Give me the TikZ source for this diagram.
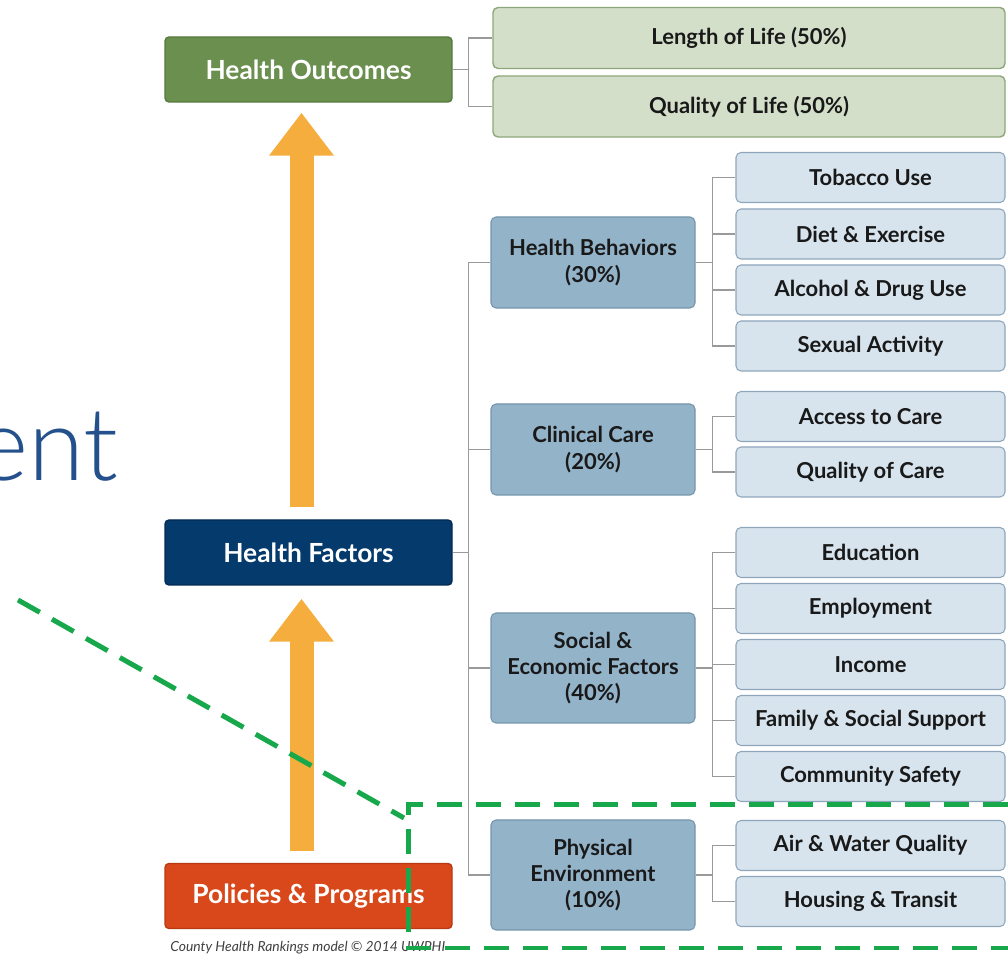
\documentclass[tikz,border=0pt]{standalone}
\usepackage{fontspec}
\setmainfont{Lato}
\newfontfamily\thinfont{Lato Light}
\usetikzlibrary{positioning,arrows.meta,calc}

\newlength\pxu
\setlength\pxu{0.02cm}

\definecolor{outcgreen}{HTML}{6A8F4E}
\definecolor{outcline}{HTML}{557A3C}
\definecolor{factnavy}{HTML}{053A6D}
\definecolor{factline}{HTML}{032A52}
\definecolor{polred}{HTML}{D9481B}
\definecolor{polline}{HTML}{B83A12}
\definecolor{arrorange}{HTML}{F5AE3E}
\definecolor{lifefill}{HTML}{D4DFCA}
\definecolor{lifeline}{HTML}{8EA77A}
\definecolor{midfill}{HTML}{93B3C9}
\definecolor{midline}{HTML}{7595AB}
\definecolor{leaffill}{HTML}{D7E4EE}
\definecolor{leafline}{HTML}{8FA6BA}
\definecolor{conngray}{HTML}{9A9A9A}
\definecolor{dashgreen}{HTML}{17A84B}
\definecolor{titleblue}{HTML}{24508C}

\begin{document}
\begin{tikzpicture}[x=0.02cm, y=-0.02cm,
    outer/.style={rounded corners=4\pxu, minimum width=287\pxu, minimum height=65\pxu,
      inner sep=0pt, text=white, line width=0.8pt, font=\fontsize{15}{18}\selectfont\bfseries},
    lifebox/.style={rounded corners=5\pxu, fill=lifefill, draw=lifeline, line width=0.8pt,
      minimum width=512\pxu, minimum height=61\pxu, inner sep=0pt, text=black!90,
      font=\fontsize{12.5}{15}\selectfont\bfseries},
    midbox/.style={rounded corners=5\pxu, fill=midfill, draw=midline, line width=0.6pt,
      minimum width=204\pxu, inner sep=0pt, align=center, text=black!90,
      font=\fontsize{12.5}{15}\selectfont\bfseries},
    leaf/.style={rounded corners=5\pxu, fill=leaffill, draw=leafline, line width=0.6pt,
      minimum width=269\pxu, minimum height=50\pxu, inner sep=0pt, text=black!90,
      font=\fontsize{12.5}{15}\selectfont\bfseries},
    conn/.style={draw=conngray, line width=0.028cm},
    bigarrow/.style={draw=arrorange, line width=0.48cm, line cap=butt,
      -{Triangle[length=0.86cm, width=1.24cm]}},
    greendash/.style={draw=dashgreen, line width=0.1cm, dash pattern=on 0.5cm off 0.28cm}]
%
    \useasboundingbox (0,0) rectangle (1008,955);
    \clip (0,0) rectangle (1008,955);
%
    \node[anchor=base east, text=titleblue, font=\thinfont\fontsize{58}{64}\selectfont,
      inner sep=0pt] (title) at (119,481) {ent};
%
    \node[outer, fill=outcgreen, draw=outcline] (outc) at (308.5,69.5) {Health Outcomes};
    \node[outer, fill=factnavy, draw=factline] (fact) at (308.5,552.5) {Health Factors};
    \node[outer, fill=polred, draw=polline] (pol) at (308.5,896) {Policies \& Programs};
%
    \draw[bigarrow, shorten <=0.24cm, shorten >=0.2cm]
      ([xshift=-0.14cm]fact.north) -- ([xshift=-0.14cm]outc.south);
    \draw[bigarrow, shorten <=0.24cm, shorten >=0.26cm]
      ([xshift=-0.14cm]pol.north) -- ([xshift=-0.14cm]fact.south);
%
    \node[lifebox] (len) at (749,38) {Length of Life (50\%)};
    \node[lifebox] (qol) at (749,106.5) {Quality of Life (50\%)};
%
    \node[midbox, minimum height=91\pxu] (beh) at (593,262.5) {Health Behaviors\\(30\%)};
    \node[midbox, minimum height=91\pxu] (care) at (593,449.5) {Clinical Care\\(20\%)};
    \node[midbox, minimum height=110\pxu] (soc) at (593,668) {Social \&\\Economic Factors\\(40\%)};
    \node[midbox, minimum height=110\pxu] (env) at (593,875) {Physical\\Environment\\(10\%)};
%
    \node[leaf] (tob) at (870.5,177.5) {Tobacco Use};
    \node[leaf] (diet) at (870.5,234) {Diet \& Exercise};
    \node[leaf] (alc) at (870.5,290) {Alcohol \& Drug Use};
    \node[leaf] (sex) at (870.5,346) {Sexual Activity};
    \node[leaf] (acc) at (870.5,416.5) {Access to Care};
    \node[leaf] (qoc) at (870.5,472) {Quality of Care};
    \node[leaf] (edu) at (870.5,552.5) {Education};
    \node[leaf] (emp) at (870.5,608.5) {Employment};
    \node[leaf] (inc) at (870.5,664.5) {Income};
    \node[leaf] (fam) at (870.5,720.5) {Family \& Social Support};
    \node[leaf] (com) at (870.5,776.5) {Community Safety};
    \node[leaf] (air) at (870.5,845.5) {Air \& Water Quality};
    \node[leaf] (hou) at (870.5,901.5) {Housing \& Transit};
%
    % tree connectors
    \coordinate (jo) at ([xshift=0.32cm]outc.east);
    \draw[conn] (outc.east) -- (jo) |- (len.west);
    \draw[conn] (jo) |- (qol.west);
%
    \coordinate (jf) at ([xshift=0.32cm]fact.east);
    \draw[conn] (fact.east) -- (jf);
    \foreach \m in {beh,care,soc,env}
      \draw[conn] (jf) |- (\m.west);
%
    \coordinate (jb) at ([xshift=0.34cm]beh.east);
    \draw[conn] (beh.east) -- (jb);
    \foreach \l in {tob,diet,alc,sex}
      \draw[conn] (jb) |- (\l.west);
    \coordinate (jc) at ([xshift=0.34cm]care.east);
    \draw[conn] (care.east) -- (jc);
    \foreach \l in {acc,qoc}
      \draw[conn] (jc) |- (\l.west);
    \coordinate (js) at ([xshift=0.34cm]soc.east);
    \draw[conn] (soc.east) -- (js);
    \foreach \l in {edu,emp,inc,fam,com}
      \draw[conn] (js) |- (\l.west);
    \coordinate (je) at ([xshift=0.34cm]env.east);
    \draw[conn] (env.east) -- (je);
    \foreach \l in {air,hou}
      \draw[conn] (je) |- (\l.west);
%
    \node[anchor=west, inner sep=0pt, text=black!75,
      font=\fontsize{7.9}{9.5}\selectfont\itshape] (credit) at (170,948)
      {County Health Rankings model \textcopyright{} 2014 UWPHI};
%
    % highlight
    \coordinate (dA) at (18,600);
    \coordinate (dB) at (404,818);
    \draw[greendash] (dA) -- (dB);
    \draw[greendash] (1008,805) -- (408,805) -- (408,948) -- (1008,948);
  \end{tikzpicture}
\end{document}
